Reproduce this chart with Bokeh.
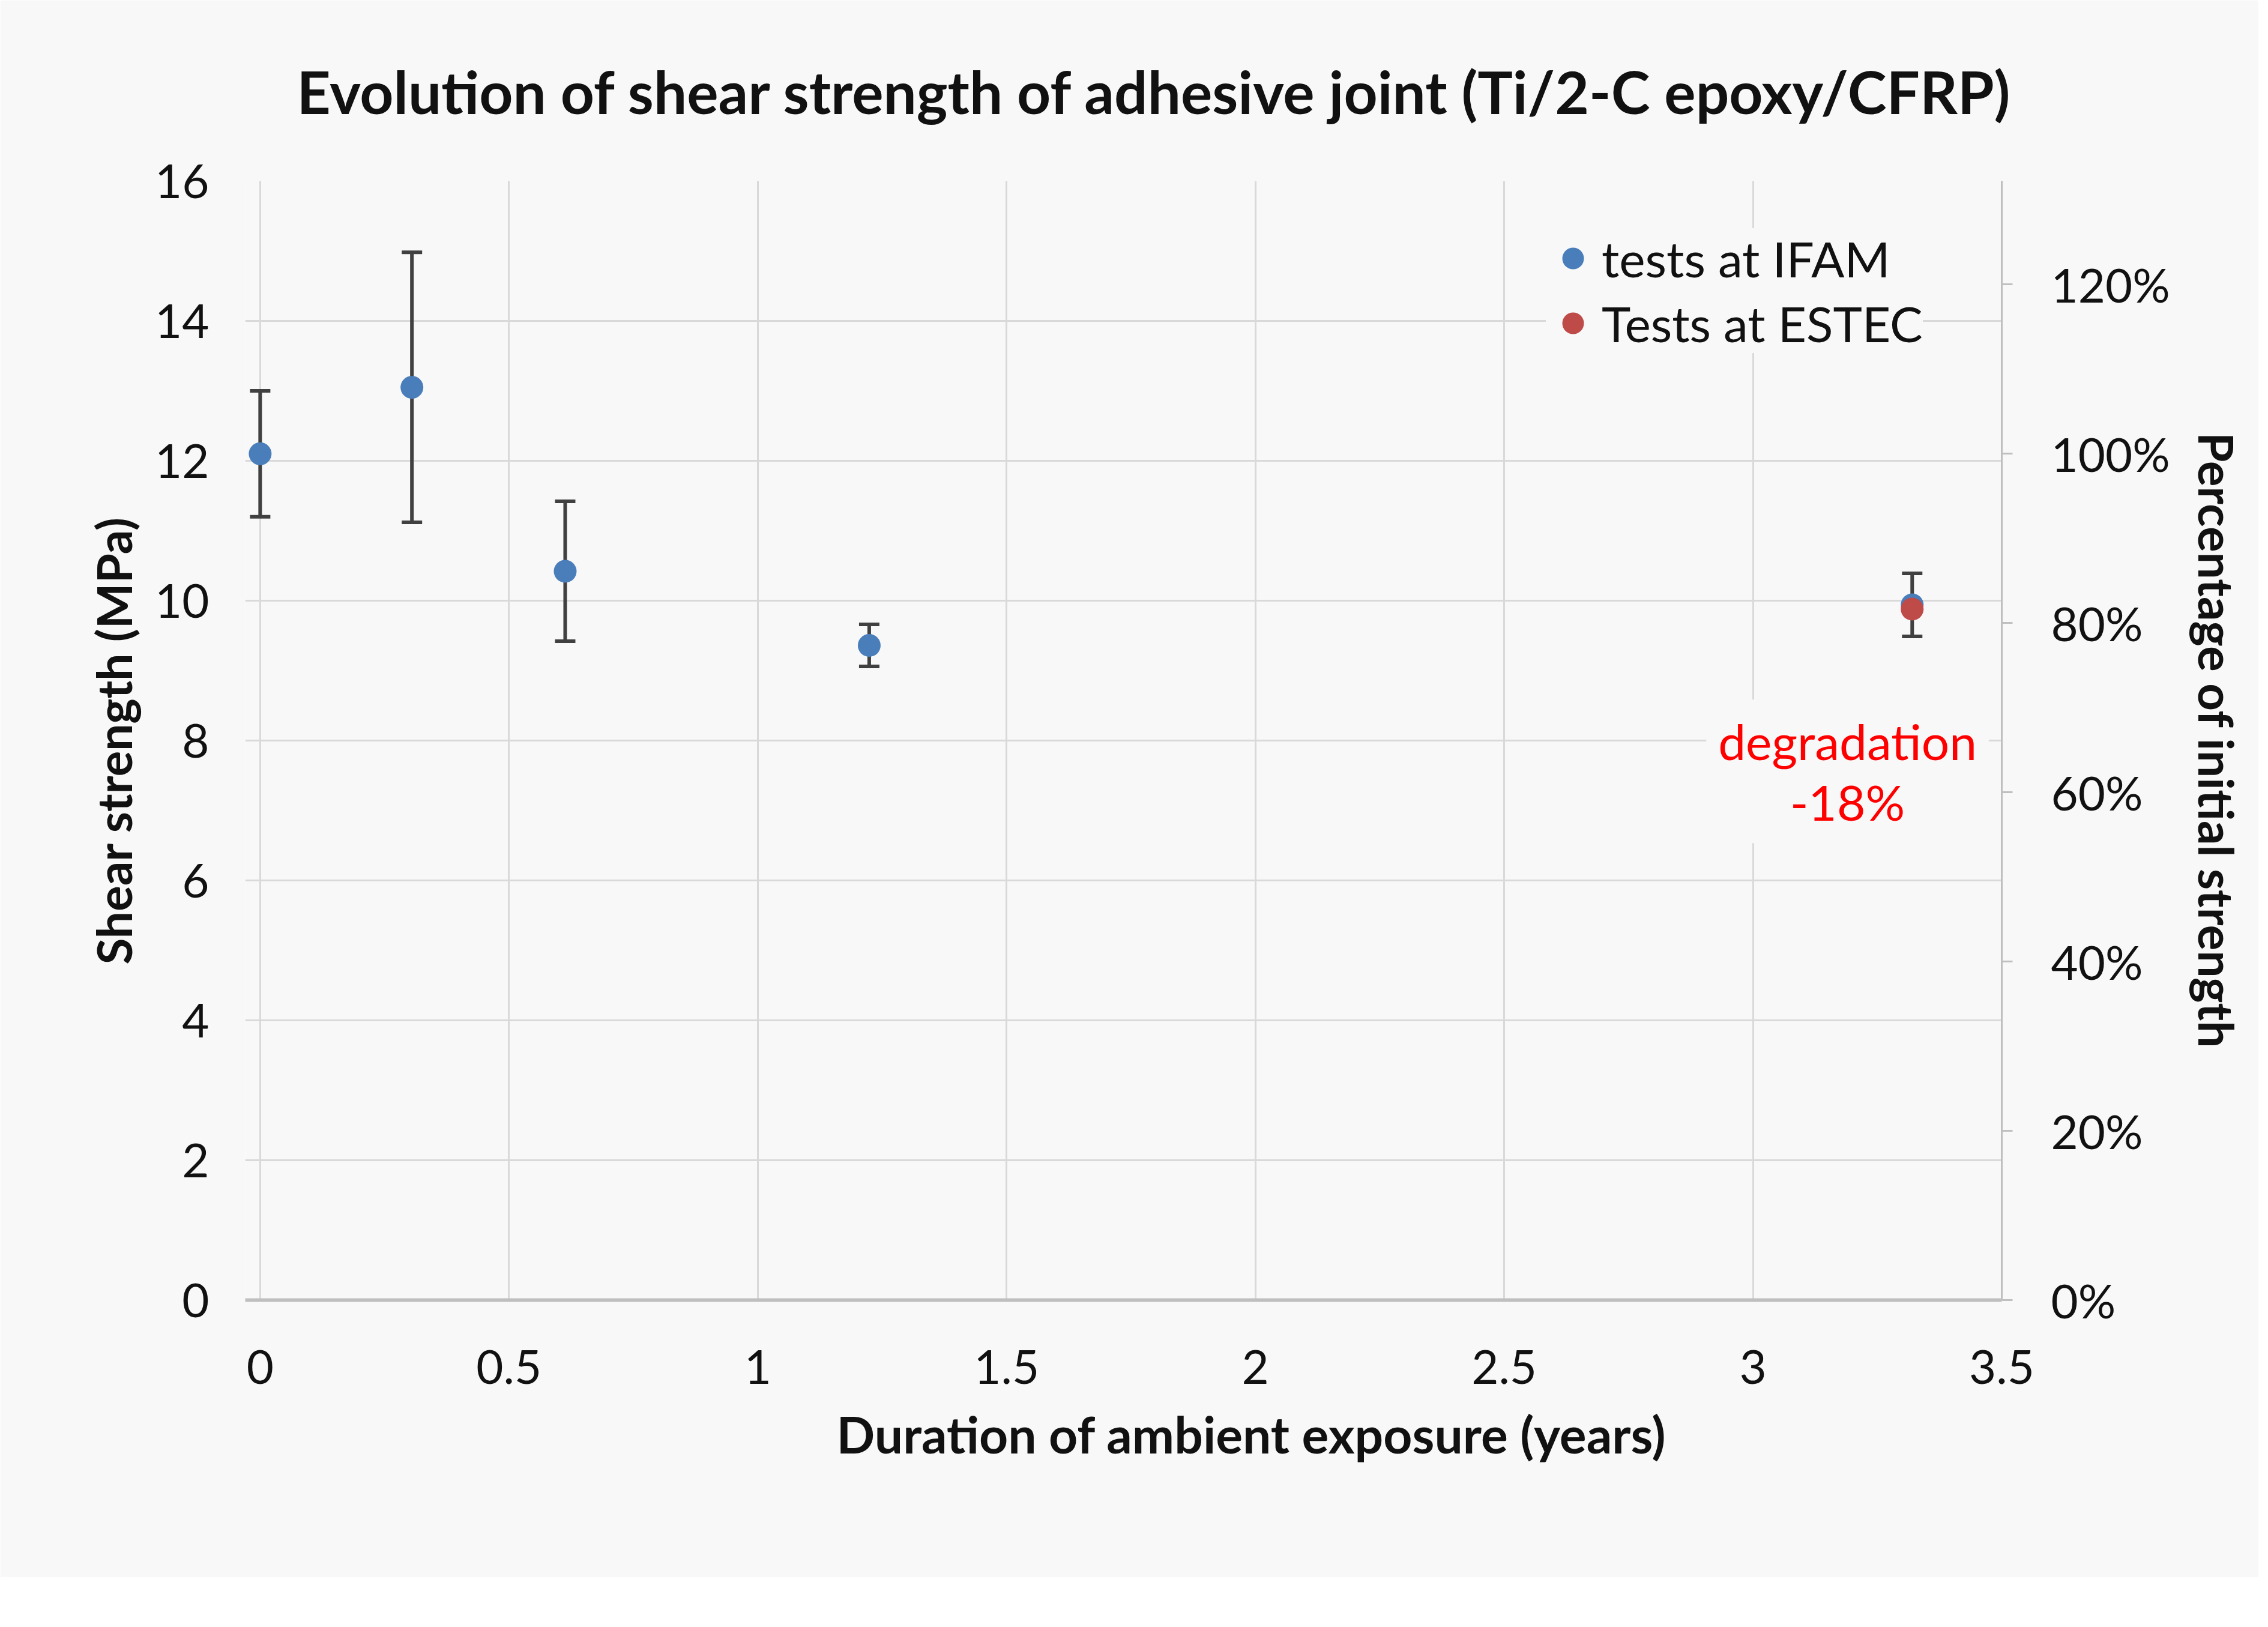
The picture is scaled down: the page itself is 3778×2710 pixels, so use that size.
from bokeh.plotting import figure
from bokeh.models import (Range1d, LinearAxis, FixedTicker, NumeralTickFormatter,
                          Whisker, TeeHead, ColumnDataSource, Legend, LegendItem,
                          Label, Title)
from bokeh.embed import file_html
from bokeh.resources import INLINE

# ---- data ----
years_ifam = [0.0, 0.305, 0.613, 1.224, 3.32]
strength_ifam = [12.1, 13.05, 10.42, 9.36, 9.94]
sd_ifam = [0.9, 1.93, 1.0, 0.3, 0.45]
years_estec = [3.32]
strength_estec = [9.88]
x_ticks = [0, 0.5, 1, 1.5, 2, 2.5, 3, 3.5]
y_ticks = [0, 2, 4, 6, 8, 10, 12, 14, 16]
pct_ticks = [0, 0.2, 0.4, 0.6, 0.8, 1.0, 1.2]

initial = strength_ifam[0]
degradation = (strength_estec[0] / initial - 1) * 100

BG = "#f8f8f8"
FONT = "Lato"
BLUE = "#4a7ebb"
RED = "#be4b48"
INK = "#111111"

p = figure(width=3762, height=2627,
           x_range=Range1d(-0.03, 3.5), y_range=Range1d(0, 16),
           output_backend="svg", toolbar_location=None,
           background_fill_color=BG, border_fill_color=BG,
           outline_line_color=None,
           min_border_left=408, min_border_right=428,
           min_border_top=300, min_border_bottom=462)

# title
p.title.text = "Evolution of shear strength of adhesive joint (Ti/2-C epoxy/CFRP)"
p.title.text_font = FONT
p.title.text_font_size = "98px"
p.title.text_font_style = "bold"
p.title.text_color = INK
p.title.align = "left"
p.title.offset = 86
p.title.standoff = 181

# axes
xa = p.xaxis[0]
xa.ticker = FixedTicker(ticks=x_ticks)
xa.major_tick_out = 0
xa.major_tick_in = 0
xa.minor_tick_out = 0
xa.minor_tick_in = 0
xa.axis_line_color = "#bfbfbf"
xa.axis_line_width = 6
xa.major_label_standoff = 83
xa.major_label_text_font = FONT
xa.major_label_text_font_size = "78px"
xa.major_label_text_color = INK

ya = p.yaxis[0]
ya.ticker = FixedTicker(ticks=y_ticks)
ya.major_tick_out = 0
ya.major_tick_in = 0
ya.minor_tick_out = 0
ya.minor_tick_in = 0
ya.axis_line_color = None
ya.major_label_standoff = 60
ya.major_label_text_font = FONT
ya.major_label_text_font_size = "78px"
ya.major_label_text_color = INK
ya.axis_label = "Shear strength (MPa)"
ya.axis_label_text_font = FONT
ya.axis_label_text_font_size = "80px"
ya.axis_label_text_font_style = "bold"
ya.axis_label_text_color = INK
ya.axis_label_standoff = 18

p.extra_y_ranges = {"pct": Range1d(0, 16 / initial)}
ra = LinearAxis(y_range_name="pct", ticker=FixedTicker(ticks=pct_ticks),
                formatter=NumeralTickFormatter(format="0%"))
ra.major_tick_out = 18
ra.major_tick_in = 0
ra.minor_tick_out = 0
ra.minor_tick_in = 0
ra.major_tick_line_color = "#bfbfbf"
ra.major_tick_line_width = 3
ra.axis_line_color = "#bfbfbf"
ra.axis_line_width = 3
ra.major_label_standoff = 64
ra.major_label_text_font = FONT
ra.major_label_text_font_size = "78px"
ra.major_label_text_color = INK
ra.axis_label = "Percentage of initial strength"
ra.axis_label_text_font = FONT
ra.axis_label_text_font_size = "80px"
ra.axis_label_text_font_style = "bold"
ra.axis_label_text_color = INK
ra.axis_label_standoff = 27
p.add_layout(ra, "right")

# x axis label as a below title (shifted right like the reference)
xt = Title(text="Duration of ambient exposure (years)", align="left",
           offset=985, text_font=FONT, text_font_size="84px",
           text_font_style="bold", text_color=INK, standoff=56)
p.add_layout(xt, "below")

# grids
for g in (p.xgrid[0], p.ygrid[0]):
    g.grid_line_color = "#d9d9d9"
    g.grid_line_width = 3

# error bars
src_ifam = ColumnDataSource(dict(
    x=years_ifam, y=strength_ifam,
    upper=[m + s for m, s in zip(strength_ifam, sd_ifam)],
    lower=[m - s for m, s in zip(strength_ifam, sd_ifam)]))
wh = Whisker(source=src_ifam, base="x", upper="upper", lower="lower",
             line_color="#404040", line_width=6, level="underlay",
             upper_head=TeeHead(size=34, line_color="#404040", line_width=6),
             lower_head=TeeHead(size=34, line_color="#404040", line_width=6))
p.add_layout(wh)

r_ifam = p.scatter("x", "y", source=src_ifam, size=38, fill_color=BLUE,
                   line_color=None)
r_estec = p.scatter(years_estec, strength_estec, size=38, fill_color=RED,
                    line_color=None)

# legend
legend = Legend(items=[LegendItem(label="tests at IFAM", renderers=[r_ifam]),
                       LegendItem(label="Tests at ESTEC", renderers=[r_estec])],
                location=(2167, 1577), orientation="vertical",
                background_fill_color=BG, background_fill_alpha=1.0,
                border_line_color=None, padding=40, spacing=8,
                glyph_width=90, glyph_height=90, label_height=100,
                label_standoff=3, label_text_font=FONT,
                label_text_font_size="82px", label_text_color=INK,
                margin=0)
p.add_layout(legend, "center")

# degradation annotation
lab = Label(x=3.19, y=7.56, text=f"degradation\n{degradation:.0f}%",
            text_align="center", text_baseline="middle",
            text_color="#ff0000", text_font=FONT, text_font_size="82px",
            text_line_height=1.03,
            background_fill_color=BG, background_fill_alpha=1.0,
            padding=20)
p.add_layout(lab)

open("out.html", "w").write(file_html(p, INLINE))
